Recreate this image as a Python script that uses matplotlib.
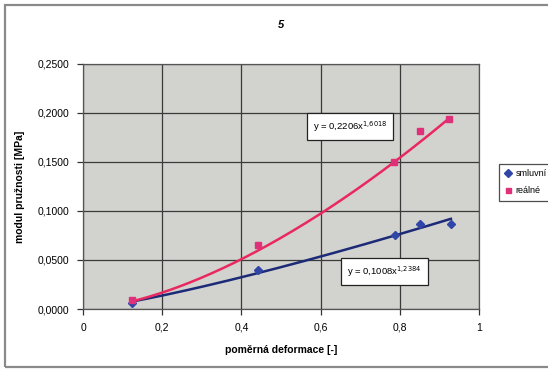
import numpy as np
import matplotlib
matplotlib.use("Agg")
import matplotlib.pyplot as plt
from matplotlib.patches import Rectangle
from matplotlib.ticker import FuncFormatter

plt.rcParams['font.family'] = ['Liberation Sans', 'DejaVu Sans']

# measured points
x_smluvni = [0.124, 0.442, 0.788, 0.851, 0.929]
y_smluvni = [0.0062, 0.0400, 0.0755, 0.0868, 0.0868]
x_realne = [0.124, 0.442, 0.785, 0.851, 0.924]
y_realne = [0.0092, 0.0650, 0.1505, 0.1815, 0.1940]

# power trendline coefficients y = a * x^b
a_smluvni, b_smluvni = 0.1008, 1.2384
a_realne, b_realne = 0.2206, 1.6018

series_names = ["smluvní", "reálné"]
x_ticks = [0, 0.2, 0.4, 0.6, 0.8, 1.0]
y_ticks = [0.0, 0.05, 0.10, 0.15, 0.20, 0.25]

blue = "#1c2a78"
blue_mk = "#2f45a8"
pink = "#ea2860"
pink_mk = "#e0307a"

fig = plt.figure(figsize=(5.48, 3.69), dpi=100)
fig.patch.set_facecolor("white")

# chart border
fig.patches.append(Rectangle((0.009, 0.006), 1.2, 0.98, transform=fig.transFigure,
                             fill=False, edgecolor="#8a8a8a", lw=1.6, zorder=0))

ax = fig.add_axes([0.1515, 0.1626, 0.7226, 0.664])
ax.set_facecolor("#d2d2ce")
ax.set_xlim(0, 1)
ax.set_ylim(0, 0.25)
ax.set_xticks(x_ticks)
ax.set_yticks(y_ticks)
ax.grid(True, color="#3a3a3a", lw=0.9)
ax.set_axisbelow(True)
for s in ax.spines.values():
    s.set_color("#555555")
    s.set_linewidth(0.9)

def fmt_x(v, pos):
    return ("%g" % v).replace(".", ",")

def fmt_y(v, pos):
    return ("%.4f" % v).replace(".", ",")

ax.xaxis.set_major_formatter(FuncFormatter(fmt_x))
ax.yaxis.set_major_formatter(FuncFormatter(fmt_y))
ax.tick_params(axis="both", labelsize=7.5, length=4, width=0.9, color="#333333",
               direction="out", pad=6)

# trendlines
xs = np.linspace(min(x_smluvni), max(x_smluvni), 200)
ax.plot(xs, a_smluvni * xs ** b_smluvni, color=blue, lw=1.8, zorder=3)
xr = np.linspace(min(x_realne), max(x_realne), 200)
ax.plot(xr, a_realne * xr ** b_realne, color=pink, lw=1.8, zorder=3)

# points
ax.plot(x_smluvni, y_smluvni, linestyle="none", marker="D", ms=4.5, color=blue_mk,
        label=series_names[0], zorder=4)
ax.plot(x_realne, y_realne, linestyle="none", marker="s", ms=4.5, color=pink_mk,
        label=series_names[1], zorder=4)

# equation labels
def eq_text(a, b):
    return ("y = %.4fx" % a).replace(".", ",") + "$^{" + ("%.4f" % b).replace(".", "{,}") + "}$"

box = dict(boxstyle="square,pad=0.65", fc="white", ec="#222222", lw=0.9)
ax.text(0.581, 0.1862, eq_text(a_realne, b_realne), fontsize=6.8, ha="left", va="center",
        bbox=box, zorder=5)
ax.text(0.667, 0.0383, eq_text(a_smluvni, b_smluvni), fontsize=6.8, ha="left", va="center",
        bbox=box, zorder=5)

ax.set_title("5", fontsize=8, fontweight="bold", fontstyle="italic", pad=26)
ax.set_xlabel("poměrná deformace [-]", fontsize=7.5, fontweight="bold", labelpad=9)
ax.set_ylabel("modul pružnosti [MPa]", fontsize=7.5, fontweight="bold", labelpad=9)

leg = fig.legend(loc="upper left", bbox_to_anchor=(0.903, 0.568), fontsize=6.5,
                 frameon=True, fancybox=False, edgecolor="#222222", handlelength=0.8,
                 handletextpad=0.4, borderpad=0.6, labelspacing=0.9, markerscale=0.8)
leg.get_frame().set_linewidth(0.9)

fig.savefig("out.png", dpi=100)
